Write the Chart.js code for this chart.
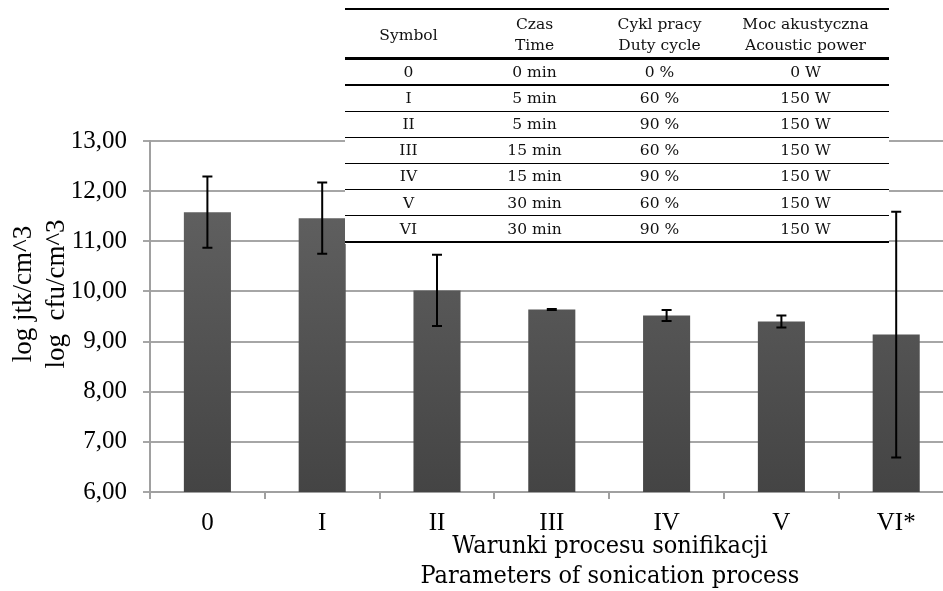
<!DOCTYPE html>
<html><head><meta charset="utf-8">
<script src="https://cdn.jsdelivr.net/npm/chart.js@4.4.0/dist/chart.umd.min.js"></script>
<style>
html,body{margin:0;padding:0;background:#fff;overflow:hidden;}
#wrap{position:relative;width:960px;height:591px;}
#c{position:absolute;left:0;top:0;}
#tbl{position:absolute;left:0;top:0;width:960px;height:591px;pointer-events:none;}
.tline{position:absolute;background:#000;}
.tcell{position:absolute;font-family:"DejaVu Serif",serif;font-size:15.5px;color:#111;text-align:center;white-space:nowrap;}
</style></head><body>
<div id="wrap"><canvas id="c" width="960" height="591"></canvas><div id="tbl"></div></div>
<script>
const categories = ['0', 'I', 'II', 'III', 'IV', 'V', 'VI*'];
const meanLog = [11.58, 11.46, 10.02, 9.64, 9.52, 9.40, 9.14];
const errLog = [0.71, 0.71, 0.71, 0.01, 0.11, 0.12, 2.45];
const yTickLabels = ['6,00', '7,00', '8,00', '9,00', '10,00', '11,00', '12,00', '13,00'];
const yTitleLines = ['log jtk/cm^3', 'log  cfu/cm^3'];
const xTitleLines = ['Warunki procesu sonifikacji', 'Parameters of sonication process'];
const tableHeader = [['Symbol'], ['Czas', 'Time'], ['Cykl pracy', 'Duty cycle'], ['Moc akustyczna', 'Acoustic power']];
const tableSymbol = ['0', 'I', 'II', 'III', 'IV', 'V', 'VI'];
const tableTime = ['0 min', '5 min', '5 min', '15 min', '15 min', '30 min', '30 min'];
const tableDuty = ['0 %', '60 %', '90 %', '60 %', '90 %', '60 %', '90 %'];
const tablePower = ['0 W', '150 W', '150 W', '150 W', '150 W', '150 W', '150 W'];

// ---- table overlay (HTML text) ----
(function buildTable(){
  const t = document.getElementById('tbl');
  const L = 345, R = 889;
  const bg = document.createElement('div');
  bg.style.cssText = `position:absolute;left:${L}px;top:0px;width:${R-L}px;height:244px;background:#fff;`;
  t.appendChild(bg);
  function line(y, h){
    const d = document.createElement('div'); d.className='tline';
    d.style.cssText += `left:${L}px;width:${R-L}px;top:${y}px;height:${h}px;`;
    t.appendChild(d);
  }
  line(8, 2);
  line(57, 2.5);
  const rowTop = 59, rowH = 26.1;
  for (let k = 1; k <= 6; k++) line(rowTop + rowH*k - 0.7, 1.4);
  line(rowTop + rowH*7 - 1.2, 2.6);
  const centers = [408.5, 534.5, 659.5, 805.5];
  function cell(text, cx, top, h, lh){
    const d = document.createElement('div'); d.className='tcell';
    d.style.cssText += `left:${cx-90}px;width:180px;top:${top}px;height:${h}px;line-height:${lh}px;`;
    d.innerHTML = text.map(s=>s.replace(/ /g,'&nbsp;')).join('<br>');
    t.appendChild(d);
  }
  tableHeader.forEach((h,j)=>{
    if (h.length === 1) cell(h, centers[j], 34.5-12, 24, 24);
    else cell(h, centers[j], 34.5-21, 42, 21);
  });
  const cols = [tableSymbol, tableTime, tableDuty, tablePower];
  for (let i = 0; i < 7; i++) {
    cols.forEach((col,j)=> cell([col[i]], centers[j], rowTop + rowH*i, rowH, rowH));
  }
})();

const errorBars = {
  id: 'errorBars',
  afterDatasetsDraw(chart) {
    const meta = chart.getDatasetMeta(0);
    const y = chart.scales.y;
    const c = chart.ctx;
    c.save();
    c.strokeStyle = '#000';
    c.lineWidth = 2;
    meta.data.forEach((bar, i) => {
      const x = bar.x;
      const t = y.getPixelForValue(meanLog[i] + errLog[i]);
      const b = y.getPixelForValue(meanLog[i] - errLog[i]);
      c.beginPath();
      c.moveTo(x, t); c.lineTo(x, b);
      c.moveTo(x - 5, t); c.lineTo(x + 5, t);
      c.moveTo(x - 5, b); c.lineTo(x + 5, b);
      c.stroke();
    });
    c.restore();
  }
};

const axisTitles = {
  id: 'axisTitles',
  afterDraw(chart) {
    const c = chart.ctx;
    c.save();
    c.fillStyle = '#000';
    c.textAlign = 'center';
    c.textBaseline = 'alphabetic';
    c.font = '25px "DejaVu Serif Condensed", "DejaVu Serif", serif';
    c.fillText(xTitleLines[0], 610, 553);
    c.fillText(xTitleLines[1], 610, 583);
    c.font = '27px "Liberation Serif", serif';
    c.textBaseline = 'middle';
    const xs = [24, 57];
    yTitleLines.forEach((s, k) => {
      c.save();
      c.translate(xs[k], 294);
      c.rotate(-Math.PI / 2);
      c.fillText(s, 0, 0);
      c.restore();
    });
    c.restore();
  }
};

new Chart(document.getElementById('c'), {
  type: 'bar',
  data: {
    labels: categories,
    datasets: [{
      data: meanLog,
      backgroundColor: (ctx) => {
        const ch = ctx.chart; const area = ch.chartArea;
        if (!area) return '#555';
        const g = ch.ctx.createLinearGradient(0, area.top, 0, area.bottom);
        g.addColorStop(0, '#666666');
        g.addColorStop(1, '#444444');
        return g;
      },
      borderWidth: 0,
      barPercentage: 0.41,
      categoryPercentage: 1.0
    }]
  },
  options: {
    responsive: false,
    animation: false,
    devicePixelRatio: 1,
    layout: { padding: { top: 141, right: 6.4, bottom: 0, left: 0 } },
    plugins: { legend: { display: false }, tooltip: { enabled: false } },
    scales: {
      x: {
        afterFit: (s) => { s.height = 99; },
        grid: { offset: true, drawOnChartArea: false, drawTicks: true, tickLength: 7, color: '#a0a0a0', lineWidth: 2 },
        border: { display: true, color: '#a0a0a0', width: 2 },
        ticks: { color: '#000', padding: 9, font: { family: '"Liberation Serif", serif', size: 25 } }
      },
      y: {
        min: 6, max: 13,
        afterFit: (s) => { s.width = 150; },
        grid: { color: '#a6a6a6', lineWidth: 2, tickLength: 7 },
        border: { display: true, color: '#a0a0a0', width: 2 },
        ticks: {
          stepSize: 1, padding: 16, color: '#000',
          font: { family: '"Liberation Serif", serif', size: 25 },
          callback: (v, i) => yTickLabels[i]
        }
      }
    }
  },
  plugins: [errorBars, axisTitles]
});
</script>
</body></html>
